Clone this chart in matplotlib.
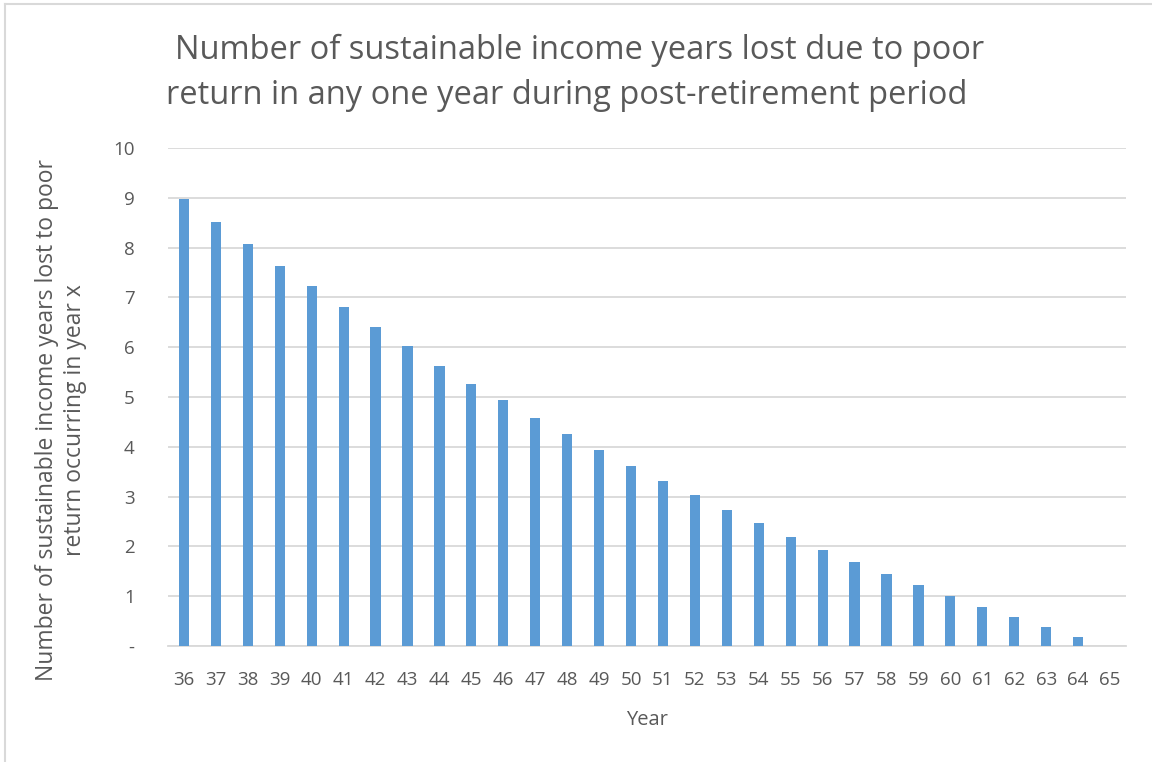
import matplotlib
matplotlib.use("Agg")
import matplotlib.pyplot as plt
from matplotlib.lines import Line2D

years = [str(y) for y in range(36, 66)]
values = [8.98, 8.51, 8.07, 7.64, 7.22, 6.81, 6.41, 6.02, 5.63, 5.27,
          4.93, 4.58, 4.25, 3.93, 3.61, 3.31, 3.03, 2.73, 2.46, 2.19,
          1.93, 1.69, 1.45, 1.22, 1.00, 0.78, 0.58, 0.38, 0.18, 0.0]
ytick_vals = list(range(0, 11))
ytick_labels = ["-"] + [str(v) for v in range(1, 11)]

title_lines = ["Number of sustainable income years lost due to poor",
               "return in any one year during post-retirement period"]
ylabel = "Number of sustainable income years lost to poor\nreturn occurring in year x"
xlabel = "Year"

plt.rcParams['font.family'] = ['Open Sans', 'DejaVu Sans']
text_color = "#595959"
grid_color = "#D9D9D9"
bar_color = "#5B9BD5"

W, H = 1152, 762
fig = plt.figure(figsize=(W / 100, H / 100), dpi=100)
ax = fig.add_axes([168/W, 1-646/H, (1126-168)/W, (646-148)/H])

x = list(range(len(years)))
ax.bar(x, values, width=0.32, color=bar_color, zorder=3)
ax.set_xlim(-0.5, len(years) - 0.5)
ax.set_ylim(0, 10)
ax.set_yticks(ytick_vals)
ax.set_yticklabels(ytick_labels)
ax.set_xticks(x)
ax.set_xticklabels(years)
ax.yaxis.grid(True, color=grid_color, linewidth=1.3, zorder=0)
ax.set_axisbelow(True)
for s in ["top", "right", "left"]:
    ax.spines[s].set_visible(False)
ax.spines["bottom"].set_color(grid_color)
ax.spines["bottom"].set_linewidth(1.3)
ax.tick_params(axis="both", length=0, labelcolor=text_color, labelsize=13.5)
ax.tick_params(axis="x", pad=18)
ax.tick_params(axis="y", pad=24)
ax.set_xlabel(xlabel, color=text_color, fontsize=14.5, labelpad=15)

fig.text(61/W, 1-420/H, ylabel, color=text_color, fontsize=16.5, rotation=90,
         ha="center", va="center", linespacing=1.25, multialignment="center")

fig.text(580/W, 1-50/H, title_lines[0], color=text_color, fontsize=23.5,
         ha="center", va="center")
fig.text(567/W, 1-95/H, title_lines[1], color=text_color, fontsize=23.5,
         ha="center", va="center")

fig.add_artist(Line2D([5/W, 1.0], [1-4/H, 1-4/H], transform=fig.transFigure,
                      color="#D9D9D9", linewidth=1.5))
fig.add_artist(Line2D([5/W, 5/W], [0.0, 1-4/H], transform=fig.transFigure,
                      color="#D9D9D9", linewidth=1.5))

fig.savefig("out.png", dpi=100, facecolor="white")
